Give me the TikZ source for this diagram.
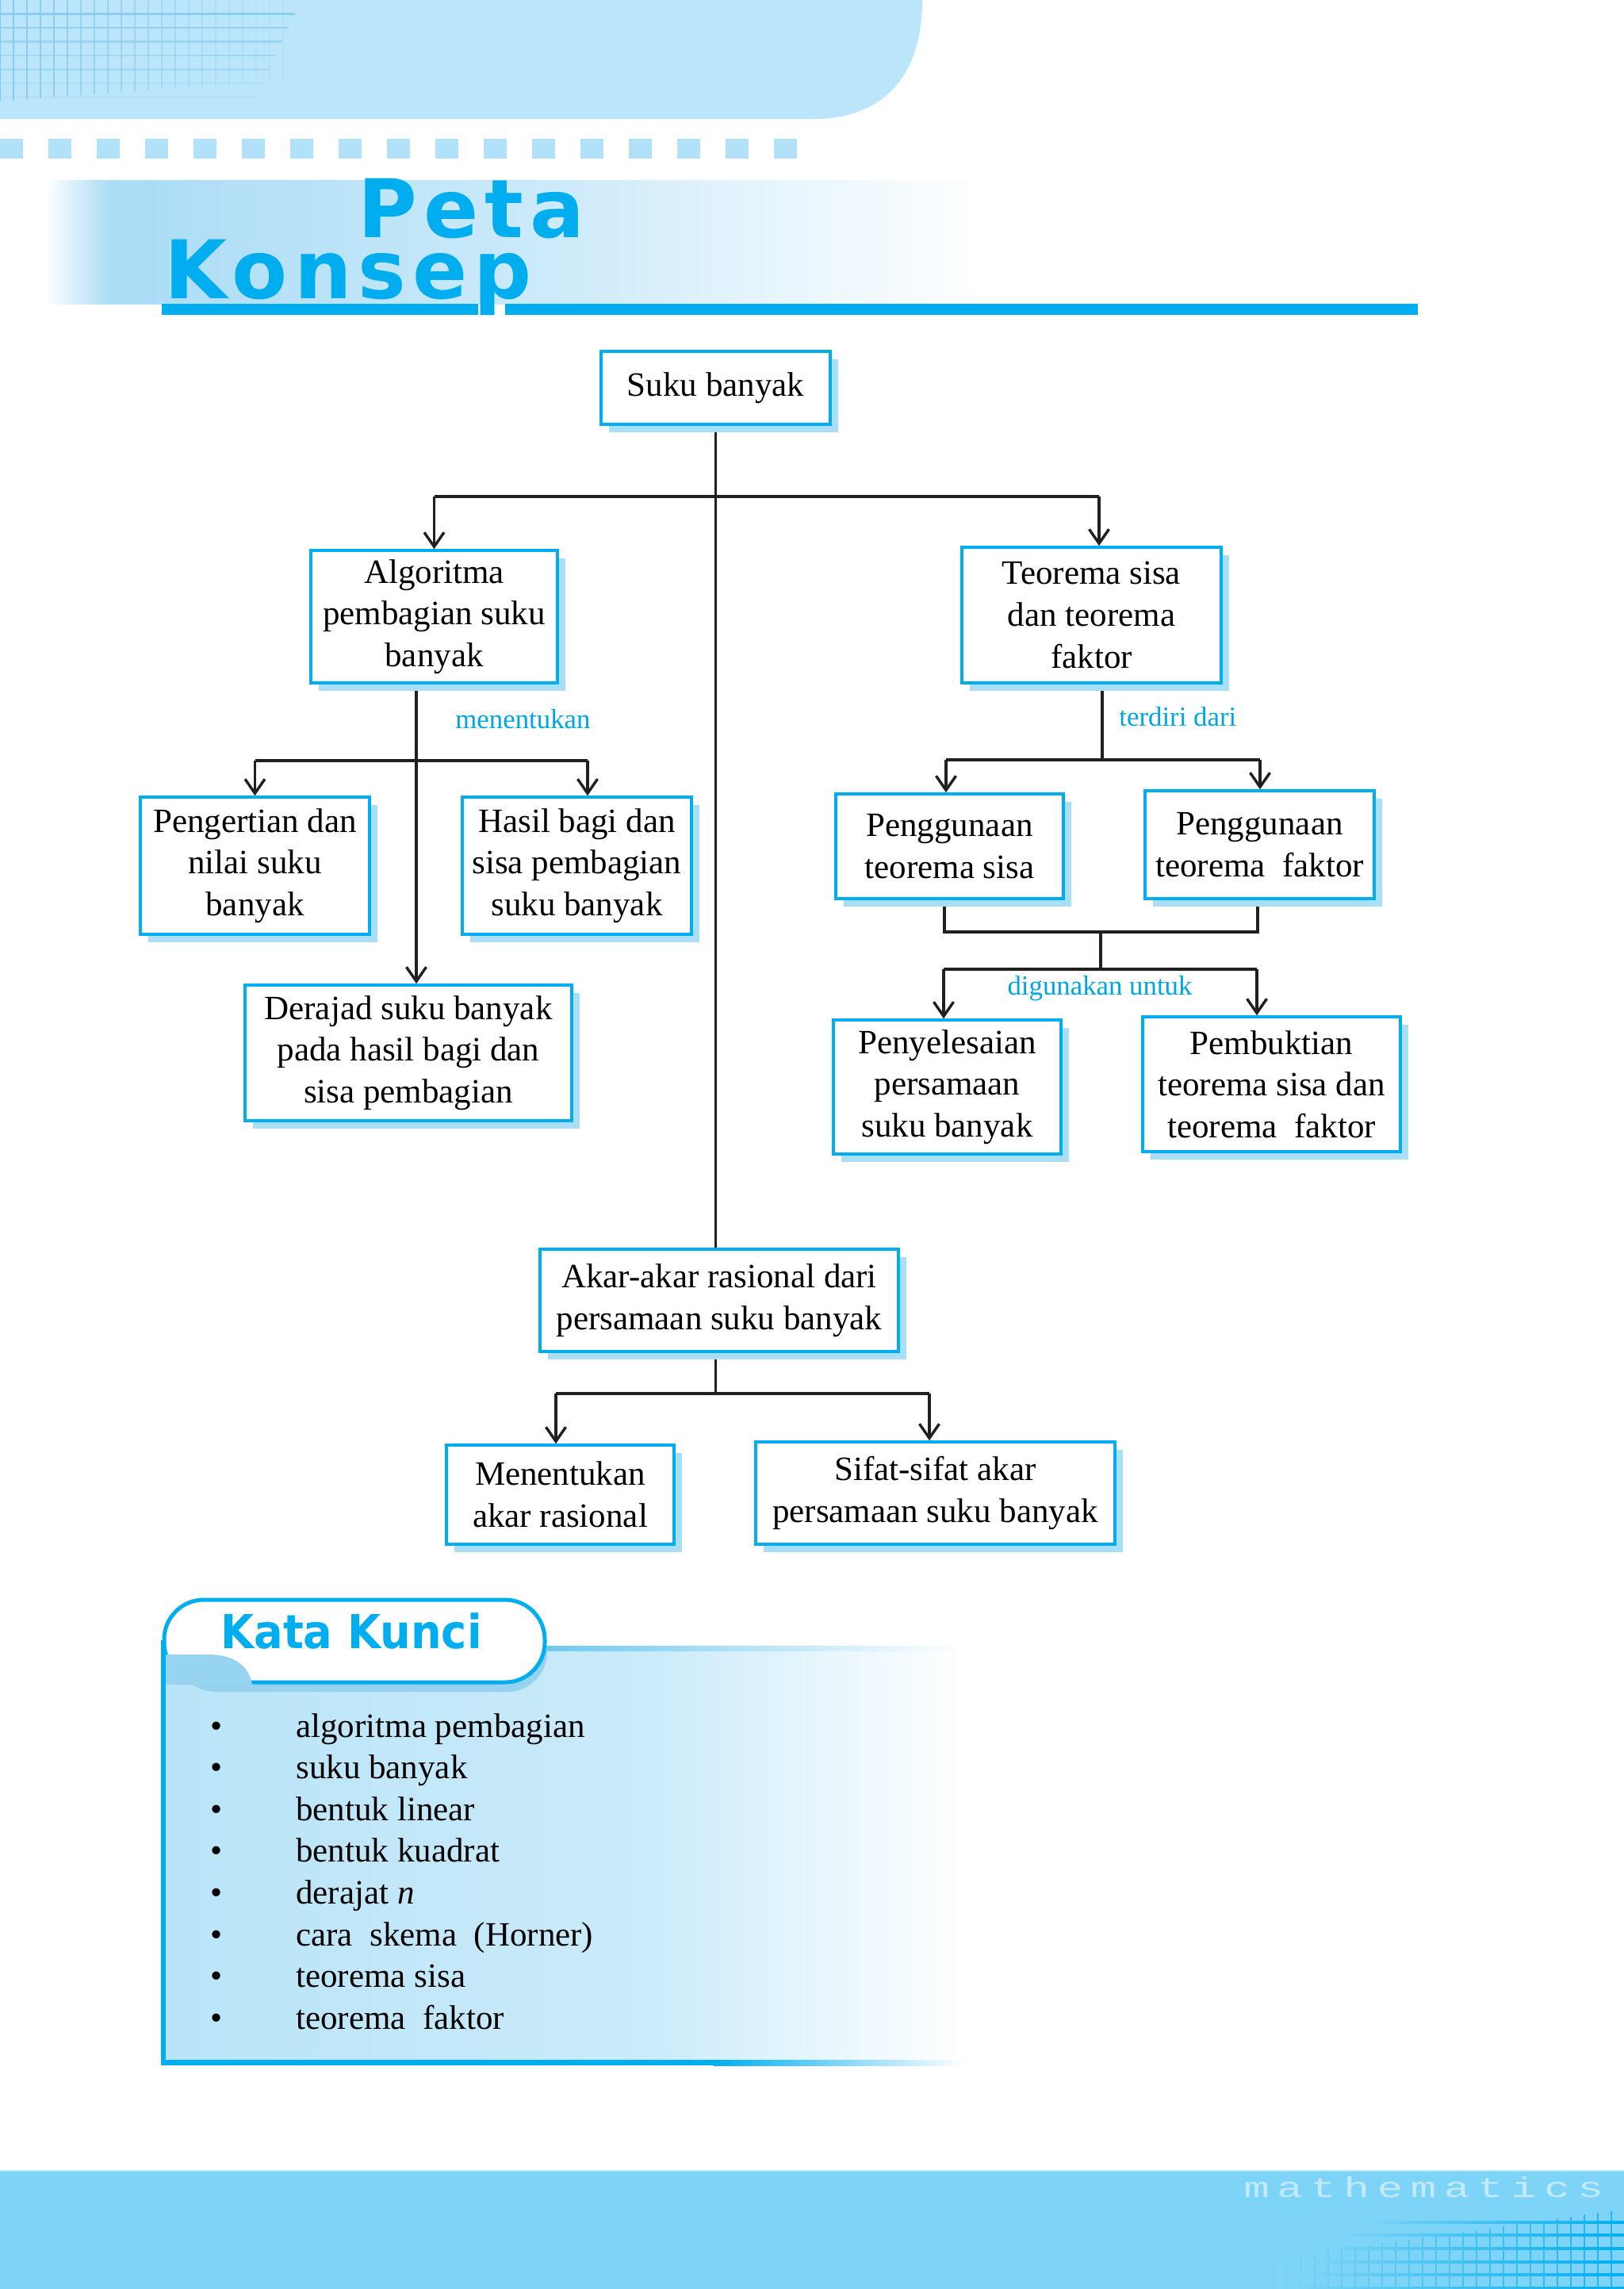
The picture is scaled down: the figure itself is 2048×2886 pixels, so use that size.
\documentclass[tikz,border=0pt]{standalone}
\usepackage{fontspec}
\setmainfont{Liberation Serif}
\newfontfamily\titlefont{DejaVu Sans}[LetterSpace=8]
\newfontfamily\kkfont{DejaVu Sans}[FakeStretch=0.92]
\newfontfamily\wmfont{Liberation Mono}[FakeStretch=1.5,LetterSpace=27]
\usetikzlibrary{arrows.meta,shadows,backgrounds}
\definecolor{cyanb}{RGB}{0,174,239}
\definecolor{shadowb}{RGB}{168,222,246}
\definecolor{bandb}{RGB}{187,229,250}
\definecolor{sqb}{RGB}{178,226,250}
\definecolor{stripb}{RGB}{170,220,246}
\definecolor{gridc}{RGB}{135,202,240}
\definecolor{kkfill}{RGB}{185,228,248}
\definecolor{swoosh}{RGB}{150,212,242}
\definecolor{tabsh}{RGB}{150,210,240}
\definecolor{topl}{RGB}{110,200,240}
\definecolor{barb}{RGB}{125,212,246}
\definecolor{wmc}{RGB}{195,234,251}
\definecolor{lblc}{RGB}{0,166,227}
\definecolor{linec}{RGB}{35,31,32}
\begin{document}
\begin{tikzpicture}[x=0.5pt,y=-0.5pt,
  box/.style={draw=cyanb, line width=1.8pt, fill=white, align=center, inner sep=2pt,
    font=\fontsize{21.5}{26.3}\selectfont,
    drop shadow={shadow xshift=5pt, shadow yshift=-5pt, fill=shadowb, opacity=1}},
  conn/.style={draw=linec, line width=1.7pt},
  arr/.style={conn, -{Straight Barb[length=9pt,width=12.5pt,line width=1.7pt]}},
  lbl/.style={text=lblc, font=\fontsize{17.4}{20}\selectfont, inner sep=0pt},
  item/.style={anchor=base west, inner sep=0pt, font=\fontsize{21.5}{26.3}\selectfont},
  bul/.style={anchor=base, inner sep=0pt, font=\fontsize{21.5}{26.3}\selectfont}]
\useasboundingbox (0,0) rectangle (2048,2886);

% ---------- header ----------
\fill[bandb] (0,0) -- (1163,0) .. controls (1163,95) and (1115,150) .. (1025,150) -- (0,150) -- cycle;
\begin{scope}
  \clip (0,0) rectangle (400,135);
  \foreach \i [evaluate=\i as \op using 1-\i/23] in {0,...,22}
    \draw[gridc, line width=0.6pt, opacity=\op] ({17*\i},0) -- ({17*\i},{128-\i*1.3});
  \foreach \j [evaluate=\j as \op using 1-\j/8] in {1,...,7}
    \draw[gridc, line width=1.1pt, opacity=\op] (0,{17.5*\j}) -- ({380-\j*8},{17.5*\j});
\end{scope}
\foreach \i in {0,...,16}
  \fill[sqb] ({61*\i},175) rectangle ({61*\i+29},200);
\shade[left color=white, right color=stripb] (57,227) rectangle (140,383);
\shade[left color=stripb, right color=white, middle color=stripb!60!white] (140,227) rectangle (1240,383);
\fill[cyanb] (204,383) rectangle (603,397);
\fill[cyanb] (637,383) rectangle (1788,397);
\node[font=\titlefont\bfseries\fontsize{51}{38.5}\selectfont, text=cyanb, anchor=north west, align=left, inner sep=0pt] (title) at (207,225) {\hspace*{122pt}Peta\\Konsep};

% ---------- concept map ----------
\node[box, minimum width=144.5pt, minimum height=46pt] (suku) at (902.5,489) {Suku banyak};
\node[box, minimum width=155.5pt, minimum height=83.5pt] (algo) at (547.5,777.5) {Algoritma\\pembagian suku\\banyak};
\node[box, minimum width=163.5pt, minimum height=85.5pt] (teo) at (1376.5,775.5) {Teorema sisa\\dan teorema\\faktor};
\node[box, minimum width=144.5pt, minimum height=86.5pt] (peng) at (321.5,1091.5) {Pengertian dan\\nilai suku\\banyak};
\node[box, minimum width=144.5pt, minimum height=86.5pt] (hasil) at (727.5,1091.5) {Hasil bagi dan\\sisa pembagian\\suku banyak};
\node[box, minimum width=206pt, minimum height=85.5pt] (deraj) at (515,1327.5) {Derajad suku banyak\\pada hasil bagi dan\\sisa pembagian};
\node[box, minimum width=143.5pt, minimum height=66pt] (pgs) at (1197.5,1067) {Penggunaan\\teorema sisa};
\node[box, minimum width=144.5pt, minimum height=68pt] (pgf) at (1588.5,1065) {Penggunaan\\teorema\ \ faktor};
\node[box, minimum width=143.5pt, minimum height=84.5pt] (peny) at (1194.5,1370.5) {Penyelesaian\\persamaan\\suku banyak};
\node[box, minimum width=162.5pt, minimum height=85pt] (pemb) at (1603.5,1367) {Pembuktian\\teorema sisa dan\\teorema\ \ faktor};
\node[box, minimum width=226pt, minimum height=64.5pt] (akar) at (907,1639.5) {Akar-akar rasional dari\\persamaan suku banyak};
\node[box, minimum width=143.5pt, minimum height=62.5pt] (menen) at (706.5,1884.5) {Menentukan\\akar rasional};
\node[box, minimum width=226.5pt, minimum height=64.5pt] (sifat) at (1179.5,1882.5) {Sifat-sifat akar\\persamaan suku banyak};

\node[lbl, anchor=west] (lm) at (574,907) {menentukan};
\node[lbl, anchor=west] (lt) at (1411,904) {terdiri dari};
\node[lbl] (ld) at (1387,1246) {digunakan untuk};

\begin{scope}[on background layer]
  \coordinate (j1) at (902.5,626);
  \coordinate (jL) at (547.5,626);
  \coordinate (jR) at (1386,626);
  \draw[conn] (suku.south) -- (suku.south |- akar.north);
  \draw[conn] (jL) -- (jR);
  \draw[arr] (jL) -- (algo.north);
  \draw[arr] (jR) -- (jR |- teo.north);
  % algoritma
  \coordinate (aV) at (525,959);
  \coordinate (aL) at (321.5,959);
  \coordinate (aR) at (741,959);
  \draw[arr] (aV |- algo.south) -- (aV |- deraj.north);
  \draw[conn] (aL) -- (aR);
  \draw[arr] (aL) -- (peng.north);
  \draw[arr] (aR) -- (aR |- hasil.north);
  % teorema
  \coordinate (tV) at (1390,958);
  \coordinate (tL) at (1193,958);
  \coordinate (tR) at (1589,958);
  \draw[conn] (tV |- teo.south) -- (tV);
  \draw[conn] (tL) -- (tR);
  \draw[arr] (tL) -- (tL |- pgs.north);
  \draw[arr] (tR) -- (tR |- pgf.north);
  % penggunaan
  \coordinate (uL) at (1191,1175);
  \coordinate (uR) at (1586,1175);
  \coordinate (uM) at (1388,1175);
  \coordinate (dM) at (1388,1222);
  \coordinate (dL) at (1190,1222);
  \coordinate (dR) at (1585,1222);
  \draw[conn] (uL |- pgs.south) -- (uL) -- (uR) -- (uR |- pgf.south);
  \draw[conn] (uM) -- (dM);
  \draw[conn] (dL) -- (dR);
  \draw[arr] (dL) -- (dL |- peny.north);
  \draw[arr] (dR) -- (dR |- pemb.north);
  % akar
  \coordinate (kV) at (902.5,1757);
  \coordinate (kL) at (701,1757);
  \coordinate (kR) at (1172,1757);
  \draw[conn] (kV |- akar.south) -- (kV);
  \draw[conn] (kL) -- (kR);
  \draw[arr] (kL) -- (kL |- menen.north);
  \draw[arr] (kR) -- (kR |- sifat.north);
\end{scope}

% ---------- Kata Kunci ----------
\shade[left color=kkfill, right color=kkfill!75!white] (206,2079) rectangle (820,2600);
\shade[left color=kkfill!75!white, right color=white] (820,2079) rectangle (1215,2600);
\shade[left color=topl, right color=white] (687,2075) rectangle (1215,2081);
\fill[cyanb] (203,2597) rectangle (900,2604);
\shade[left color=cyanb, right color=white] (900,2597) rectangle (1215,2604);
\fill[tabsh, rounded corners=25pt] (222,2036) rectangle (690,2133);
\draw[cyanb, line width=2.5pt, fill=white, rounded corners=25pt] (207,2017) rectangle (687,2121);
\fill[swoosh] (205,2086) -- (262,2086) .. controls (298,2086) and (314,2102) .. (318,2124) -- (205,2124) -- cycle;
\fill[cyanb] (203,2068) rectangle (209,2604);
\node[font=\kkfont\bfseries\fontsize{29.5}{32}\selectfont, text=cyanb, anchor=base, inner sep=0pt] (kk) at (443,2078) {Kata Kunci};

\node[bul] (b1) at (273,2190) {•};
\node[bul] (b2) at (273,2242.6) {•};
\node[bul] (b3) at (273,2295.2) {•};
\node[bul] (b4) at (273,2347.8) {•};
\node[bul] (b5) at (273,2400.4) {•};
\node[bul] (b6) at (273,2453) {•};
\node[bul] (b7) at (273,2505.6) {•};
\node[bul] (b8) at (273,2558.2) {•};
\node[item] (k1) at (373,2190) {algoritma pembagian};
\node[item] (k2) at (373,2242.6) {suku banyak};
\node[item] (k3) at (373,2295.2) {bentuk linear};
\node[item] (k4) at (373,2347.8) {bentuk kuadrat};
\node[item] (k5) at (373,2400.4) {derajat \textit{n}};
\node[item] (k6) at (373,2453) {cara\ \ skema\ \ (Horner)};
\node[item] (k7) at (373,2505.6) {teorema sisa};
\node[item] (k8) at (373,2558.2) {teorema\ \ faktor};

% ---------- bottom bar ----------
\fill[barb] (0,2736) rectangle (2048,2886);
\draw[barb!55!white, line width=1pt] (0,2737) -- (2048,2737);
\foreach \i [evaluate=\i as \op using \i/34] in {0,...,27}
  \draw[cyanb, line width=0.6pt, opacity=\op] ({1590+17*\i},{2850-\i*2.4}) -- ({1590+17*\i},2886);
\foreach \y/\xs in {2802/1720,2818/1690,2835/1665,2852/1650,2868/1640,2885/1630}
  \shade[left color=barb, right color=cyanb] (\xs,{\y-1.2}) rectangle (2048,{\y+1.2});
\node[font=\wmfont\fontsize{18}{20}\selectfont, text=wmc, anchor=base west, inner sep=0pt] (wm) at (1568,2770) {mathematics};
\end{tikzpicture}
\end{document}
